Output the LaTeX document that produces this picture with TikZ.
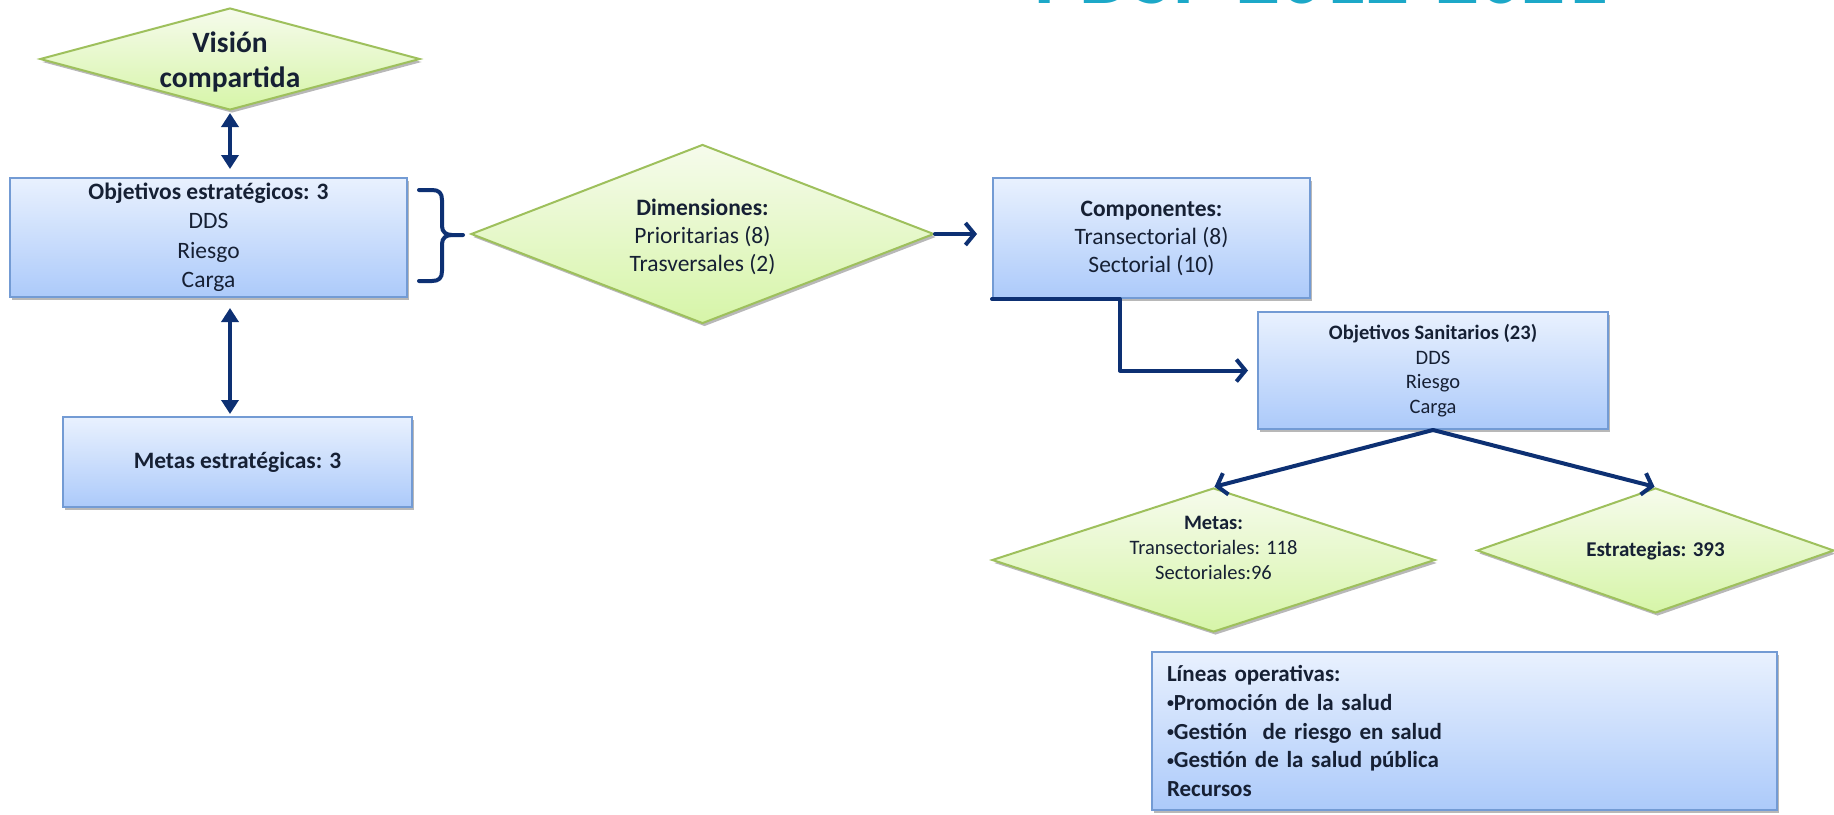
\documentclass[tikz,border=0pt]{standalone}
\usepackage{fontspec}
\setmainfont{Carlito}
\usetikzlibrary{shapes.geometric, arrows.meta, shadows, calc}
\definecolor{navy}{RGB}{13,48,115}
\definecolor{boxtop}{RGB}{233,241,254}
\definecolor{boxbot}{RGB}{172,202,250}
\definecolor{boxline}{RGB}{115,155,212}
\definecolor{dtop}{RGB}{246,251,236}
\definecolor{dbot}{RGB}{214,245,168}
\definecolor{dline}{RGB}{158,192,92}
\definecolor{txt}{RGB}{22,32,52}
\definecolor{titlecol}{RGB}{28,168,200}
\newcommand{\smbul}{\raisebox{2.5pt}{\fontsize{14}{14}\selectfont •}}
\tikzset{
  myshadow/.style={drop shadow={shadow xshift=2pt, shadow yshift=-3pt, opacity=0.28, fill=black}},
  bluebox/.style={rectangle, draw=boxline, line width=2pt, top color=boxtop, bottom color=boxbot,
    inner sep=0pt, align=center, text=txt, myshadow},
  greendiam/.style={diamond, draw=dline, line width=2pt, top color=dtop, bottom color=dbot,
    inner sep=0pt, align=center, text=txt, myshadow},
  plaintext/.style={inner sep=0pt, align=center, text=txt},
  dblarrow/.style={draw=navy, line width=4pt, {Triangle[width=17pt,length=14pt]}-{Triangle[width=17pt,length=14pt]}},
  openarrow/.style={draw=navy, line width=4pt, line cap=round, line join=round, -{Straight Barb[length=9pt,width=22pt]}},
  bracestyle/.style={draw=navy, line width=4pt, line cap=round, line join=round}
}
\begin{document}
\begin{tikzpicture}[x=1pt,y=-1pt]
\useasboundingbox (0,0) rectangle (1834,814);
\fill[white] (0,0) rectangle (1834,814);
\begin{scope}
\clip (0,0) rectangle (1834,814);
\node[anchor=base west, inner sep=0pt, text=titlecol, font=\fontsize{85}{90}\selectfont\bfseries] (title) at (1034,3) {PDSP 2012-2021};
\end{scope}

% nodes
\node[greendiam, minimum width=380pt, minimum height=102pt, aspect=3.7] (vision) at (230,59) {};
\node[plaintext, font=\fontsize{29.5}{35}\selectfont\bfseries] (visiontxt) at (230,62) {Visión\\compartida};
\node[bluebox, minimum width=397pt, minimum height=119pt,
  font=\fontsize{23.5}{29.5}\selectfont] (objest) at (208.5,237.5)
  {\textbf{Objetivos estratégicos: 3}\\DDS\\Riesgo\\Carga};
\node[bluebox, minimum width=349pt, minimum height=90pt,
  font=\fontsize{23.5}{29}\selectfont\bfseries] (metasest) at (237.5,462) {Metas estratégicas: 3};
\node[greendiam, minimum width=463pt, minimum height=179pt, aspect=2.6] (dim) at (702.5,234) {};
\node[plaintext, font=\fontsize{23.5}{28}\selectfont] (dimtxt) at (702.5,237)
  {\textbf{Dimensiones:}\\Prioritarias (8)\\Trasversales (2)};
\node[bluebox, minimum width=317pt, minimum height=120pt,
  font=\fontsize{23.5}{28}\selectfont] (comp) at (1151.5,238)
  {\textbf{Componentes:}\\Transectorial (8)\\Sectorial (10)};
\node[bluebox, minimum width=350pt, minimum height=117pt,
  font=\fontsize{20.5}{24.7}\selectfont] (objsan) at (1433,370.5)
  {\textbf{Objetivos Sanitarios (23)}\\DDS\\Riesgo\\Carga};
\node[greendiam, minimum width=443pt, minimum height=144pt, aspect=3.07] (metas) at (1213.5,560) {};
\node[plaintext, font=\fontsize{20.5}{25}\selectfont] (metastxt) at (1213.5,548)
  {\textbf{Metas:}\\Transectoriales: 118\\Sectoriales:96};
\node[greendiam, minimum width=357pt, minimum height=125pt, aspect=2.86,
  font=\fontsize{21}{25}\selectfont\bfseries] (estr) at (1655.5,550.5) {Estrategias: 393};
\node[bluebox, minimum width=625pt, minimum height=158pt, inner xsep=15pt, text width=595pt, align=left,
  font=\fontsize{23}{28.7}\selectfont\bfseries] (lineas) at (1464.5,731)
  {Líneas operativas:\\\smbul Promoción de la salud\\\smbul Gestión~ de riesgo en salud\\\smbul Gestión de la salud pública\\Recursos};

% connectors
\draw[dblarrow, shorten <=2pt, shorten >=8pt] (vision.south) -- (vision.south |- objest.north);
\draw[dblarrow, shorten <=10pt, shorten >=2pt] (vision.south |- objest.south) -- (vision.south |- metasest.north);
\draw[openarrow, shorten >=15pt] (dim.east) -- (dim.east -| comp.west);
\draw[openarrow, shorten >=9pt] (comp.south west) -- ++(128,0) |- (objsan.west);
\draw[openarrow, shorten >=1pt] (objsan.south) -- (metas.north);
\draw[openarrow, shorten >=1pt] (objsan.south) -- (estr.north);

% brace
\coordinate (bracetop) at (419,190);
\coordinate (bracetip) at (463,235);
\coordinate (bracebot) at (419,281);
\draw[bracestyle] (bracetop) -- (432,190) .. controls (439,190) and (442,193) .. (442,200)
  -- (442,226) .. controls (442,232) and (446,235) .. (452,235) -- (bracetip);
\draw[bracestyle] (bracebot) -- (432,281) .. controls (439,281) and (442,278) .. (442,271)
  -- (442,244) .. controls (442,238) and (446,235) .. (452,235);
\end{tikzpicture}
\end{document}
